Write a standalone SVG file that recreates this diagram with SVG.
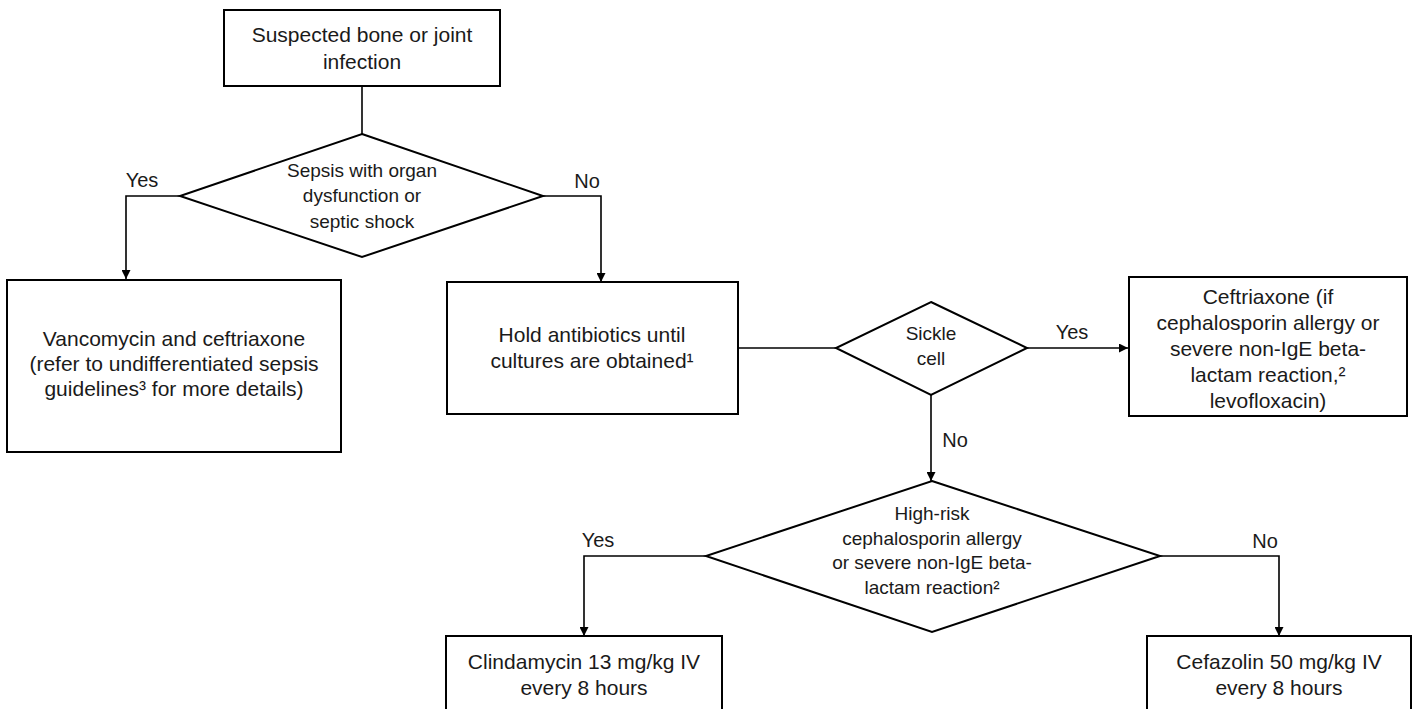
<svg xmlns="http://www.w3.org/2000/svg" width="1421" height="709" viewBox="0 0 1421 709">
<style>
  .box { fill: #ffffff; stroke: #000000; stroke-width: 2; }
  .dia { fill: #ffffff; stroke: #000000; stroke-width: 2; }
  .conn { fill: none; stroke: #000000; stroke-width: 1.6; }
  .t { font-family: "Liberation Sans", Arial, sans-serif; font-size: 21px; fill: #1a1a1a; text-anchor: middle; }
  .td { font-family: "Liberation Sans", Arial, sans-serif; font-size: 19px; fill: #1a1a1a; text-anchor: middle; }
  .lbl { font-family: "Liberation Sans", Arial, sans-serif; font-size: 20px; fill: #1a1a1a; text-anchor: middle; }
</style>
<defs>
  <marker id="arrow" markerUnits="userSpaceOnUse" markerWidth="9" markerHeight="9" refX="9" refY="4.5" orient="auto">
    <path d="M0,0 L9,4.5 L0,9 z" fill="#000000"/>
  </marker>
</defs>
<rect x="0" y="0" width="1421" height="709" fill="#ffffff"/>

<g id="connectors">
  <path class="conn" d="M362,86 L362,134"/>
  <path class="conn" d="M180,196 L126,196 L126,279" marker-end="url(#arrow)"/>
  <path class="conn" d="M543,196 L601,196 L601,282" marker-end="url(#arrow)"/>
  <path class="conn" d="M738,348 L836,348"/>
  <path class="conn" d="M1027,348 L1128,348" marker-end="url(#arrow)"/>
  <path class="conn" d="M931,395 L931,481" marker-end="url(#arrow)"/>
  <path class="conn" d="M706,556 L584,556 L584,636" marker-end="url(#arrow)"/>
  <path class="conn" d="M1160,556 L1279,556 L1279,636" marker-end="url(#arrow)"/>
  <text class="lbl" x="142" y="187">Yes</text>
  <text class="lbl" x="587" y="188">No</text>
  <text class="lbl" x="1072" y="339">Yes</text>
  <text class="lbl" x="955" y="447">No</text>
  <text class="lbl" x="598" y="547">Yes</text>
  <text class="lbl" x="1265" y="548">No</text>
</g>

<g id="start">
  <rect class="box" x="224" y="10" width="276" height="76"/>
  <text class="t" x="362" y="42">Suspected bone or joint</text>
  <text class="t" x="362" y="69">infection</text>
</g>

<g id="sepsis">
  <polygon class="dia" points="362,134 543,196 362,257 180,196"/>
  <text class="td" x="362" y="177">Sepsis with organ</text>
  <text class="td" x="362" y="202">dysfunction or</text>
  <text class="td" x="362" y="228">septic shock</text>
</g>

<g id="vanco">
  <rect class="box" x="7" y="280" width="334" height="172"/>
  <text class="t" x="174" y="346">Vancomycin and ceftriaxone</text>
  <text class="t" x="174" y="371">(refer to undifferentiated sepsis</text>
  <text class="t" x="174" y="396">guidelines³ for more details)</text>
</g>

<g id="hold">
  <rect class="box" x="447" y="282" width="291" height="132"/>
  <text class="t" x="592" y="342">Hold antibiotics until</text>
  <text class="t" x="592" y="368">cultures are obtained¹</text>
</g>

<g id="sickle">
  <polygon class="dia" points="931,302 1027,348 931,395 836,348"/>
  <text class="td" x="931" y="340">Sickle</text>
  <text class="td" x="931" y="365">cell</text>
</g>

<g id="ceftriaxone">
  <rect class="box" x="1129" y="277" width="278" height="139"/>
  <text class="t" x="1268" y="304">Ceftriaxone (if</text>
  <text class="t" x="1268" y="330">cephalosporin allergy or</text>
  <text class="t" x="1268" y="356">severe non-IgE beta-</text>
  <text class="t" x="1268" y="382">lactam reaction,²</text>
  <text class="t" x="1268" y="408">levofloxacin)</text>
</g>

<g id="allergy">
  <polygon class="dia" points="932,481 1160,556 932,632 706,556"/>
  <text class="td" x="932" y="520">High-risk</text>
  <text class="td" x="932" y="545">cephalosporin allergy</text>
  <text class="td" x="932" y="569">or severe non-IgE beta-</text>
  <text class="td" x="932" y="594">lactam reaction²</text>
</g>

<g id="clindamycin">
  <rect class="box" x="446" y="636" width="276" height="100"/>
  <text class="t" x="584" y="669">Clindamycin 13 mg/kg IV</text>
  <text class="t" x="584" y="695">every 8 hours</text>
</g>

<g id="cefazolin">
  <rect class="box" x="1147" y="636" width="264" height="100"/>
  <text class="t" x="1279" y="669">Cefazolin 50 mg/kg IV</text>
  <text class="t" x="1279" y="695">every 8 hours</text>
</g>
</svg>
